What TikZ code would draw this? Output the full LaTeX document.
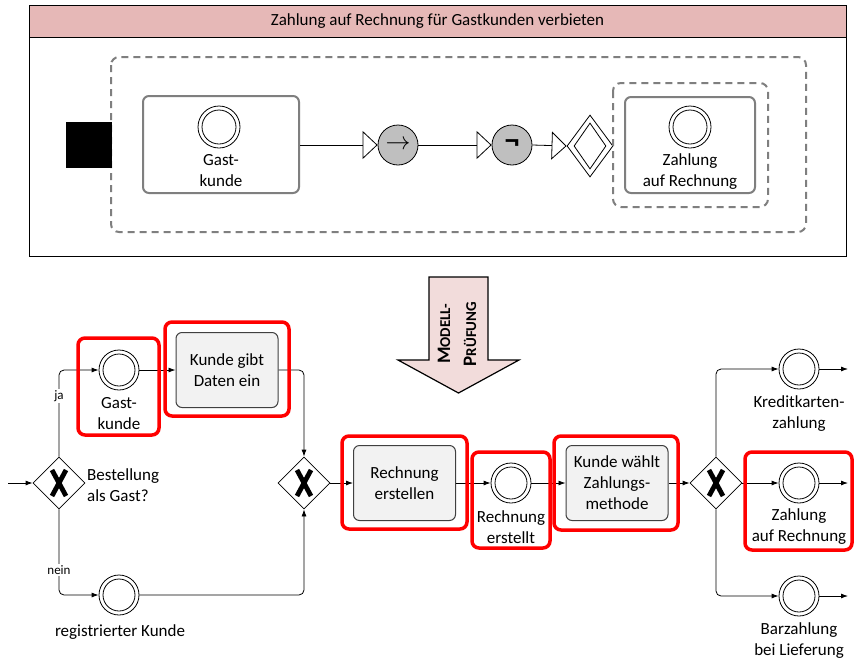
\documentclass[tikz,border=0pt]{standalone}
\usepackage{fontspec}
\setmainfont{Carlito}
\usetikzlibrary{arrows.meta,shapes.geometric}
\definecolor{hdr}{HTML}{E6B8B7}
\definecolor{dashgray}{HTML}{7F7F7F}
\definecolor{taskfill}{HTML}{F2F2F2}
\definecolor{arrowfill}{HTML}{F2DCDB}
\definecolor{hlred}{HTML}{FF0000}
\definecolor{opgray}{HTML}{BFBFBF}
\newcommand\myfs[2]{\fontsize{#1}{#2}\selectfont}
\begin{document}
\begin{tikzpicture}[x=1pt,y=-1pt,
  evt/.style={circle,draw,line width=0.8pt,minimum size=40pt,inner sep=0pt,fill=white,
    path picture={\draw[line width=0.8pt] (path picture bounding box.center) circle (16pt);}},
  evtbig/.style={circle,draw,line width=0.8pt,minimum size=42pt,inner sep=0pt,fill=white,
    path picture={\draw[line width=0.8pt] (path picture bounding box.center) circle (17pt);}},
  gw/.style={diamond,draw,line width=0.8pt,minimum width=52pt,minimum height=52pt,inner sep=0pt,fill=white,
    path picture={
      \draw[line width=4.8pt] ([shift={(-7pt,-13pt)}]path picture bounding box.center) -- ([shift={(7pt,13pt)}]path picture bounding box.center);
      \draw[line width=4.8pt] ([shift={(-7pt,13pt)}]path picture bounding box.center) -- ([shift={(7pt,-13pt)}]path picture bounding box.center);}},
  task/.style={draw=black!75,fill=taskfill,line width=1pt,rounded corners=6pt,minimum width=102pt,minimum height=75pt,align=center,inner sep=1pt,font=\myfs{17}{21}},
  lbl/.style={align=center,font=\myfs{17}{21},inner sep=0pt},
  small/.style={font=\myfs{13}{14},fill=white,inner sep=1pt},
  hl/.style={draw=hlred,line width=3.5pt,rounded corners=7pt},
  flow/.style={line width=0.8pt,-{Latex[length=7pt,width=5pt]}},
  oflow/.style={line width=0.8pt,-{Triangle[open,length=15pt,width=28pt]}},
  dbox/.style={draw=dashgray,line width=2pt,dash pattern=on 7pt off 5pt,rounded corners=8pt},
  gbox/.style={draw=dashgray,line width=2pt,rounded corners=6pt,fill=white,inner sep=0pt},
  opc/.style={circle,draw,line width=0.8pt,fill=opgray,minimum size=40pt,inner sep=0pt}
]
\useasboundingbox (0,0) rectangle (854,659);
\fill[white] (0,0) rectangle (854,659);

% ---------- top panel ----------
\draw[line width=0.8pt] (29,5) rectangle (846,256);
\draw[line width=0.8pt,fill=hdr] (29,5) rectangle (846,37);
\node[lbl] (hdrtxt) at (437.5,21) {Zahlung auf Rechnung für Gastkunden verbieten};
\draw[dbox] (111,57) rectangle (806,232);
\node[fill=black,minimum width=46pt,minimum height=46pt,inner sep=0pt] (blk) at (89,145) {};
\node[gbox,minimum width=156pt,minimum height=97pt] (gb) at (221,144.5) {};
\node[evtbig] (gbe) at (219,127) {};
\node[lbl] (gbl) at (221,171) {Gast-\\kunde};
\node[opc] (op1) at (398,145) {\myfs{26}{26}$\rightarrow$};
\node[opc] (op2) at (512,145) {\myfs{30}{30}\bfseries ¬};
\node[diamond,draw,line width=0.8pt,fill=white,minimum width=46pt,minimum height=62pt,inner sep=0pt] (dd) at (590,146) {};
\node[diamond,draw,line width=0.8pt,minimum width=32pt,minimum height=46pt,inner sep=0pt] (ddi) at (590,146) {};
\draw[dbox] (613,83) rectangle (768,207);
\node[gbox,minimum width=130pt,minimum height=96pt] (zb) at (690,145) {};
\node[evtbig] (zbe) at (690,127) {};
\node[lbl] (zbl) at (690,172) {Zahlung\\auf Rechnung};
\draw[oflow] (gb.east |- op1.west) -- (op1.west);
\draw[oflow] (op1.east) -- (op2.west);
\draw[oflow] (op2.east) -- (dd.west);

% ---------- big arrow ----------
\draw[fill=arrowfill,line width=1.2pt] (429,277) -- (488,277) -- (488,360) -- (519,360) -- (458.5,393) -- (398,360) -- (429,360) -- cycle;
\node[rotate=90,align=center,inner sep=0pt,font=\bfseries\myfs{15}{26}] (mp) at (457,334)
  {{\myfs{19}{26}M}ODELL-\\{\myfs{19}{26}P}RÜFUNG};

% ---------- bottom process ----------
\coordinate (in) at (8,483);
\node[gw] (g1) at (59,483) {};
\node[evt] (eg) at (119,370) {};
\node[lbl] (egl) at (119,414) {Gast-\\kunde};
\node[task] (t1) at (227,370) {Kunde gibt\\Daten ein};
\node[gw] (g2) at (304,483) {};
\node[evt] (er) at (119,595) {};
\node[lbl] (erl) at (120,632) {registrierter Kunde};
\node[lbl,align=left,anchor=west] (q) at (87,485) {Bestellung\\als Gast?};
\node[task] (t2) at (404.5,483) {Rechnung\\erstellen};
\node[evt] (ere) at (511,483) {};
\node[lbl] (erel) at (511,527) {Rechnung\\erstellt};
\node[task] (t3) at (617,483) {Kunde wählt\\Zahlungs-\\methode};
\node[gw] (g3) at (716,483) {};
\node[evt] (ekk) at (799,369) {};
\node[lbl] (ekkl) at (799,414) {Kreditkarten-\\zahlung};
\node[evt] (ezr) at (799,483) {};
\node[lbl] (ezrl) at (799,527) {Zahlung\\auf Rechnung};
\node[evt] (eb) at (799,596) {};
\node[lbl] (ebl) at (799,641) {Barzahlung\\bei Lieferung};
\coordinate (okk) at (848,369);
\coordinate (ozr) at (848,483);
\coordinate (ob) at (848,596);

\draw[flow] (in) -- (g1.west);
\draw[flow,rounded corners=5pt] (g1.north) |- (eg.west);
\draw[flow] (eg) -- (t1);
\draw[flow,rounded corners=5pt] (t1.east) -| (g2.north);
\draw[flow,rounded corners=5pt] (g1.south) |- (er.west);
\draw[flow,rounded corners=5pt] (er.east) -| (g2.south);
\draw[flow] (g2.east) -- (t2.west);
\draw[flow] (t2) -- (ere);
\draw[flow] (ere) -- (t3);
\draw[flow] (t3) -- (g3.west);
\draw[flow,rounded corners=5pt] (g3.north) |- (ekk.west);
\draw[flow] (g3.east) -- (ezr.west);
\draw[flow,rounded corners=5pt] (g3.south) |- (eb.west);
\draw[flow] (ekk.east) -- (okk);
\draw[flow] (ezr.east) -- (ozr);
\draw[flow] (eb.east) -- (ob);
\node[small] (ja) at (59,396) {ja};
\node[small] (nein) at (59,570) {nein};

% highlight boxes
\draw[hl] (78,338) rectangle (159,435);
\draw[hl] (165,322) rectangle (289,416);
\draw[hl] (342,436) rectangle (467,529);
\draw[hl] (472,452) rectangle (550,548);
\draw[hl] (554,436) rectangle (678,530);
\draw[hl] (745,452) rectangle (852,550);
\end{tikzpicture}
\end{document}
